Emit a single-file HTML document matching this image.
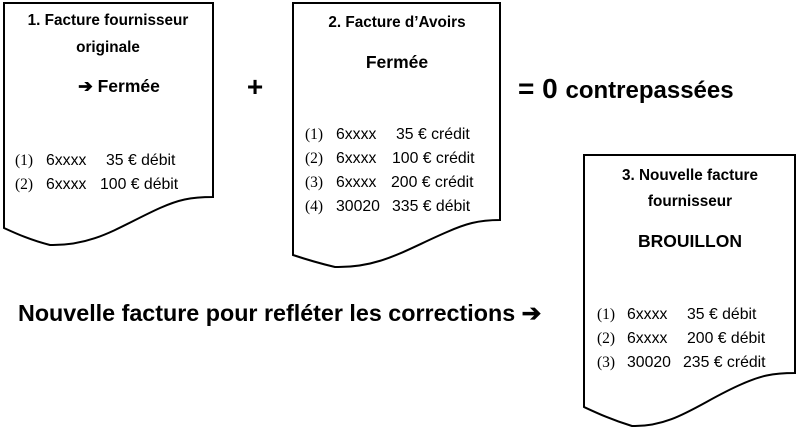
<!DOCTYPE html>
<html><head><meta charset="utf-8"><style>
html,body{margin:0;padding:0;background:#fff}
svg text{font-family:"Liberation Sans",Arial,sans-serif;fill:#000}
.t{font-weight:bold;font-size:15.3px}
.s{font-family:"Liberation Serif",serif !important;font-size:15.5px}
.i{font-size:15.8px}
</style></head><body>
<svg width="798" height="428" viewBox="0 0 798 428" xmlns="http://www.w3.org/2000/svg">
<g fill="#fff" stroke="#000" stroke-width="2">
<path d="M4,3 H213 V197 C190,197 178,200 160,208 C120,226 95,246 50,245 C30,240 15,233 4,228 Z"/>
<path d="M293,3 H500 V220 C478,220 465,224 447,232 C405,250 380,268 335,267 C318,263 305,259 293,255 Z"/>
<path d="M584,155 H795 V373 C772,373 760,376 742,384 C700,402 675,427 632,426 C612,420 597,413 584,407 Z"/>
</g>
<text class="t" x="108" y="25" text-anchor="middle">1. Facture fournisseur</text>
<text class="t" x="108" y="52" text-anchor="middle">originale</text>
<text x="119" y="92" text-anchor="middle" font-weight="bold" font-size="17.5">➔ Fermée</text>
<text class="s" x="15" y="165">(1)</text><text class="i" x="46" y="165">6xxxx</text><text class="i" x="106" y="165">35 € débit</text>
<text class="s" x="15" y="189">(2)</text><text class="i" x="46" y="189">6xxxx</text><text class="i" x="100" y="189">100 € débit</text>

<text x="255" y="96" text-anchor="middle" font-weight="bold" font-size="28">+</text>

<text class="t" x="397" y="27" text-anchor="middle">2. Facture d’Avoirs</text>
<text x="397" y="68" text-anchor="middle" font-weight="bold" font-size="17.5">Fermée</text>
<text class="s" x="305" y="139">(1)</text><text class="i" x="336" y="139">6xxxx</text><text class="i" x="396" y="139">35 € crédit</text>
<text class="s" x="305" y="163">(2)</text><text class="i" x="336" y="163">6xxxx</text><text class="i" x="392" y="163">100 € crédit</text>
<text class="s" x="305" y="187">(3)</text><text class="i" x="336" y="187">6xxxx</text><text class="i" x="391" y="187">200 € crédit</text>
<text class="s" x="305" y="211">(4)</text><text class="i" x="336" y="211">30020</text><text class="i" x="392" y="211">335 € débit</text>

<text x="518" y="98" font-weight="bold" font-size="28">= 0 <tspan font-size="24">contrepassées</tspan></text>

<text class="t" x="690" y="180" text-anchor="middle">3. Nouvelle facture</text>
<text class="t" x="690" y="206" text-anchor="middle">fournisseur</text>
<text x="690" y="247" text-anchor="middle" font-weight="bold" font-size="17.5">BROUILLON</text>
<text class="s" x="597" y="319">(1)</text><text class="i" x="627" y="319">6xxxx</text><text class="i" x="687" y="319">35 € débit</text>
<text class="s" x="597" y="343">(2)</text><text class="i" x="627" y="343">6xxxx</text><text class="i" x="687" y="343">200 € débit</text>
<text class="s" x="597" y="367">(3)</text><text class="i" x="627" y="367">30020</text><text class="i" x="683" y="367">235 € crédit</text>

<text x="18" y="321" font-weight="bold" font-size="23.3">Nouvelle facture pour refléter les corrections ➔</text>
</svg>
</body></html>
